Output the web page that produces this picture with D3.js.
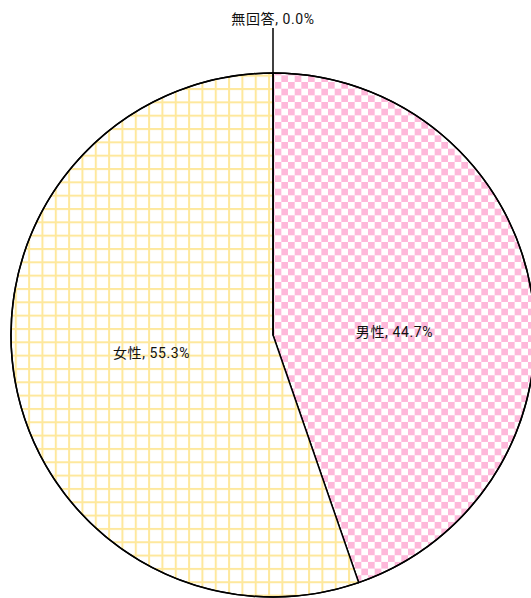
<!DOCTYPE html>
<html>
<head>
<meta charset="utf-8">
<script src="https://cdn.jsdelivr.net/npm/d3@7"></script>
<style>
  body { margin: 0; background: #fff; }
  text { font-family: Roboto, "Noto Sans CJK JP", sans-serif; font-size: 14px; letter-spacing: 0.6px; fill: #111; }
</style>
</head>
<body>
<div id="chart"></div>
<script>
// data
var labels = ["男性", "女性", "無回答"]
var values = [44.7, 55.3, 0.0]

var width = 531, height = 598
var cx = 273, cy = 335, radius = 262

var svg = d3.select("#chart").append("svg")
    .attr("width", width)
    .attr("height", height)

// fill patterns
var defs = svg.append("defs")
var step = 13.33

var check = defs.append("pattern")
    .attr("id", "check")
    .attr("patternUnits", "userSpaceOnUse")
    .attr("x", 1.7).attr("y", 0.3)
    .attr("width", step).attr("height", step)
check.append("rect").attr("width", step).attr("height", step).attr("fill", "#fff")
check.append("rect").attr("width", step / 2).attr("height", step / 2).attr("fill", "#feb8da")
check.append("rect").attr("x", step / 2).attr("y", step / 2)
    .attr("width", step / 2).attr("height", step / 2).attr("fill", "#feb8da")

var grid = defs.append("pattern")
    .attr("id", "grid")
    .attr("patternUnits", "userSpaceOnUse")
    .attr("x", 9.4 - 1).attr("y", 7.3 - 1)
    .attr("width", step).attr("height", step)
grid.append("rect").attr("width", step).attr("height", step).attr("fill", "#fff")
grid.append("rect").attr("x", 0).attr("y", 0).attr("width", 2).attr("height", step).attr("fill", "#fee89c")
grid.append("rect").attr("x", 0).attr("y", 0).attr("width", step).attr("height", 2).attr("fill", "#fee89c")

var fills = ["url(#check)", "url(#grid)", "#fff"]

var pie = d3.pie().sort(null).value(d => d)
var arcs = pie(values)

var arc = d3.arc().innerRadius(0).outerRadius(radius)

var g = svg.append("g").attr("transform", "translate(" + cx + "," + cy + ")")

g.selectAll("path")
    .data(arcs)
    .enter()
    .append("path")
    .attr("d", arc)
    .attr("fill", (d, i) => fills[i])
    .attr("stroke", "#000")
    .attr("stroke-width", 1.5)
    .attr("stroke-linejoin", "round")

// outline
g.append("circle").attr("r", radius).attr("fill", "none").attr("stroke", "#000").attr("stroke-width", 1.5)

// labels inside slices
var labelArc = d3.arc().innerRadius(radius * 0.47).outerRadius(radius * 0.47)
var nudge = [17, -2]
arcs.forEach(function(d, i) {
    var text = labels[i] + ", " + d.data.toFixed(1) + "%"
    if (d.data > 0) {
        var c = labelArc.centroid(d)
        g.append("text")
            .attr("x", c[0])
            .attr("y", c[1] + nudge[i])
            .attr("text-anchor", "middle")
            .attr("dominant-baseline", "central")
            .text(text)
    } else {
        // zero slice: leader line out of the top
        var a = d.startAngle
        var p1 = [Math.sin(a) * radius, -Math.cos(a) * radius]
        var p2 = [Math.sin(a) * (radius + 45), -Math.cos(a) * (radius + 45)]
        g.append("line")
            .attr("x1", p1[0]).attr("y1", p1[1])
            .attr("x2", p2[0]).attr("y2", p2[1])
            .attr("stroke", "#000").attr("stroke-width", 1.5)
        g.append("text")
            .attr("x", p2[0])
            .attr("y", p2[1] - 9)
            .attr("text-anchor", "middle")
            .attr("dominant-baseline", "central")
            .text(text)
    }
})
</script>
</body>
</html>
